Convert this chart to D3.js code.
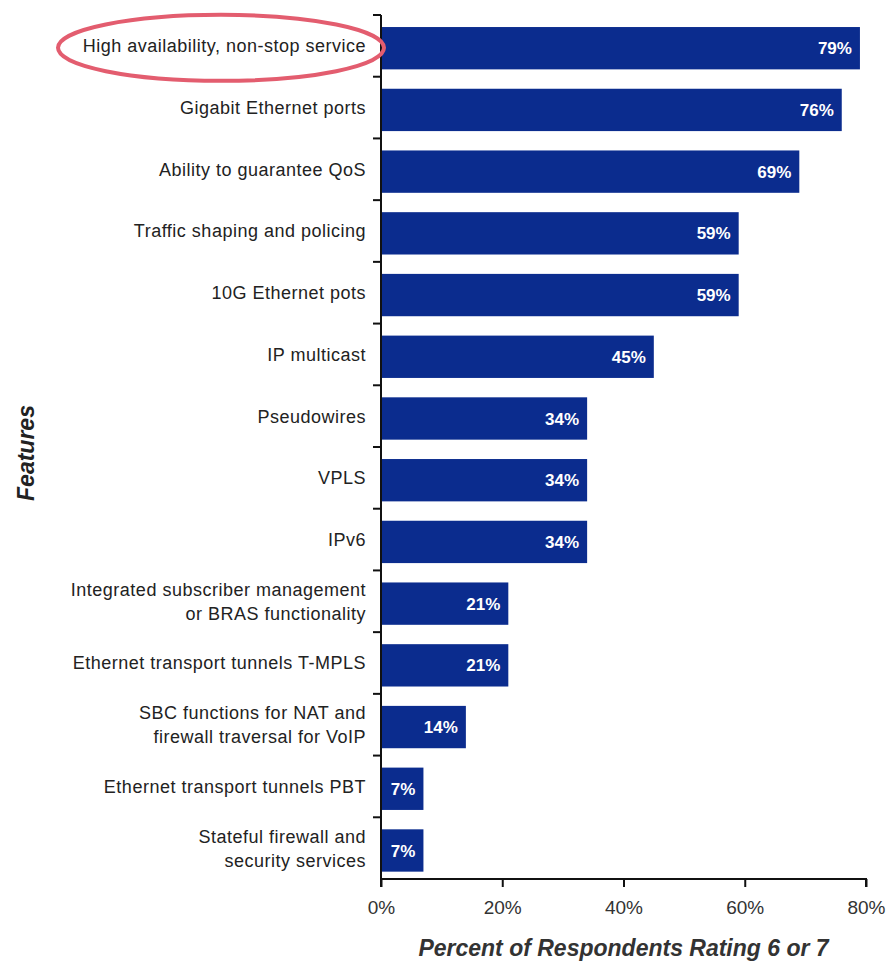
<!DOCTYPE html>
<html>
<head>
<meta charset="utf-8">
<script src="https://cdn.jsdelivr.net/npm/d3@7"></script>
<style>
  body { margin: 0; background: #fff; }
  svg { font-family: "Liberation Sans", Arial, sans-serif; }
</style>
</head>
<body>
<svg id="chart" width="893" height="963"></svg>
<script>
// features, top to bottom (\n = line break in label)
var features = [
  "High availability, non-stop service",
  "Gigabit Ethernet ports",
  "Ability to guarantee QoS",
  "Traffic shaping and policing",
  "10G Ethernet pots",
  "IP multicast",
  "Pseudowires",
  "VPLS",
  "IPv6",
  "Integrated subscriber management\nor BRAS functionality",
  "Ethernet transport tunnels T-MPLS",
  "SBC functions for NAT and\nfirewall traversal for VoIP",
  "Ethernet transport tunnels PBT",
  "Stateful firewall and\nsecurity services"
];
var percents = [79, 76, 69, 59, 59, 45, 34, 34, 34, 21, 21, 14, 7, 7];
var xTicks = [0, 20, 40, 60, 80];
var xTitle = "Percent of Respondents Rating 6 or 7";
var yTitle = "Features";

var margin = {top: 15, right: 27, bottom: 84, left: 381};
var width = 893 - margin.left - margin.right;
var height = 963 - margin.top - margin.bottom;

var svg = d3.select("#chart");
var g = svg.append("g")
  .attr("transform", "translate(" + margin.left + "," + margin.top + ")");

var x = d3.scaleLinear().domain([0, 80]).range([0, width]);
var y = d3.scaleBand().domain(features).range([0, height]).padding(0);

var barOff = y.bandwidth() * 0.195;
var barH = y.bandwidth() * 0.686;

// bars
g.selectAll("rect.bar")
  .data(features)
  .enter().append("rect")
  .attr("class", "bar")
  .attr("x", 0)
  .attr("y", function(d) { return y(d) + barOff; })
  .attr("width", function(d, i) { return x(percents[i]); })
  .attr("height", barH)
  .attr("fill", "#0b2c8e");

// value labels
g.selectAll("text.val")
  .data(features)
  .enter().append("text")
  .attr("class", "val")
  .attr("x", function(d, i) { return x(percents[i]) - 8; })
  .attr("y", function(d) { return y(d) + barOff + barH / 2; })
  .attr("dy", "0.36em")
  .attr("text-anchor", "end")
  .attr("fill", "#fff")
  .style("font-weight", "bold")
  .style("font-size", "17px")
  .text(function(d, i) { return percents[i] + "%"; });

// y axis: line + ticks at band edges
g.append("line")
  .attr("x1", 0).attr("x2", 0)
  .attr("y1", 0).attr("y2", height)
  .attr("stroke", "#111").attr("stroke-width", 2);
var edges = features.map(function(d) { return y(d); });
g.selectAll("line.ytick")
  .data(edges)
  .enter().append("line")
  .attr("class", "ytick")
  .attr("x1", -8).attr("x2", 0)
  .attr("y1", function(d) { return d; })
  .attr("y2", function(d) { return d; })
  .attr("stroke", "#111").attr("stroke-width", 2);

// category labels
var labels = g.selectAll("text.cat")
  .data(features)
  .enter().append("text")
  .attr("class", "cat")
  .attr("text-anchor", "end")
  .attr("fill", "#222")
  .style("font-size", "18px")
  .style("letter-spacing", "0.5px");
labels.each(function(d) {
  var lines = d.split("\n");
  var t = d3.select(this);
  var cy = y(d) + y.bandwidth() / 2;
  lines.forEach(function(l, k) {
    t.append("tspan")
      .attr("x", -15)
      .attr("y", cy + (k - (lines.length - 1) / 2) * 24)
      .attr("dy", "0.36em")
      .text(l);
  });
});

// x axis
var xAxis = g.append("g")
  .attr("transform", "translate(0," + height + ")")
  .call(d3.axisBottom(x).tickValues(xTicks).tickSize(8).tickPadding(14)
    .tickFormat(function(d) { return d + "%"; }));
xAxis.select(".domain").attr("stroke", "#111").attr("stroke-width", 2)
  .attr("d", "M0,8V0H" + width + "V8");
xAxis.selectAll(".tick line").attr("stroke", "#111").attr("stroke-width", 2);
xAxis.selectAll(".tick text")
  .attr("fill", "#333")
  .style("font-family", "'Liberation Sans', Arial, sans-serif")
  .style("font-size", "19px");

// axis titles
g.append("text")
  .attr("x", x(40))
  .attr("y", height + 77)
  .attr("text-anchor", "middle")
  .attr("fill", "#333")
  .style("font-size", "23px")
  .style("font-style", "italic")
  .style("font-weight", "bold")
  .text(xTitle);

svg.append("text")
  .attr("transform", "translate(34,453) rotate(-90)")
  .attr("text-anchor", "middle")
  .attr("fill", "#222")
  .style("font-size", "23px")
  .style("font-style", "italic")
  .style("font-weight", "bold")
  .text(yTitle);

// highlight ellipse around the top feature
svg.append("ellipse")
  .attr("cx", 221)
  .attr("cy", margin.top + y(features[0]) + y.bandwidth() / 2 + 2)
  .attr("rx", 163)
  .attr("ry", 33)
  .attr("fill", "none")
  .attr("stroke", "#e35d6f")
  .attr("stroke-width", 4);
</script>
</body>
</html>
